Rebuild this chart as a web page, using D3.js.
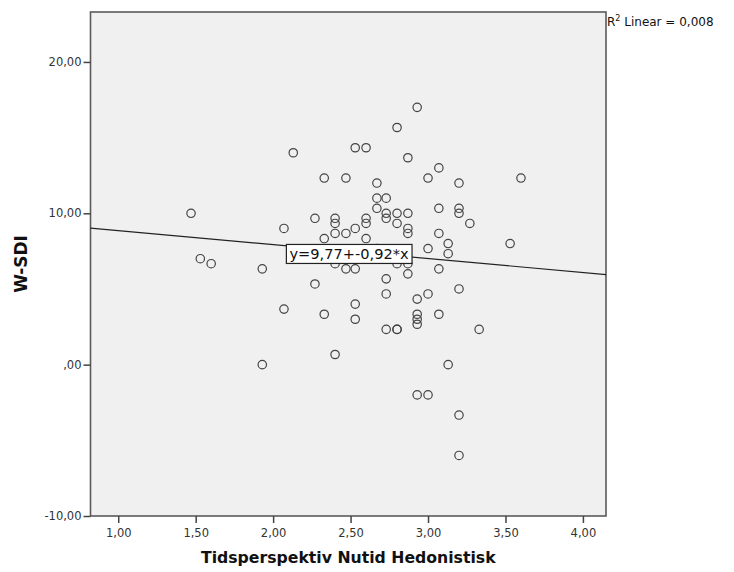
<!DOCTYPE html>
<html><head><meta charset="utf-8">
<script src="https://cdn.jsdelivr.net/npm/d3@7"></script>
<style>body{margin:0;background:#fff}svg{display:block}</style>
</head><body>
<script>
const xValues = [1.47,1.53,1.60,1.93,1.93,2.07,2.07,2.13,2.27,2.27,2.33,2.33,2.33,2.40,2.40,2.40,2.40,2.40,2.47,2.47,2.47,2.53,2.53,2.53,2.53,2.53,2.60,2.60,2.60,2.60,2.67,2.67,2.67,2.73,2.73,2.73,2.73,2.73,2.73,2.80,2.80,2.80,2.80,2.80,2.80,2.87,2.87,2.87,2.87,2.87,2.87,2.93,2.93,2.93,2.93,2.93,2.93,3.00,3.00,3.00,3.00,3.07,3.07,3.07,3.07,3.07,3.13,3.13,3.13,3.20,3.20,3.20,3.20,3.20,3.20,3.27,3.33,3.53,3.60,2.67,2.60];
const yValues = [10.00,7.00,6.67,6.33,0.00,9.00,3.67,14.00,9.67,5.33,12.33,8.33,3.33,9.67,9.33,8.67,6.67,0.67,12.33,8.67,6.33,14.33,9.00,6.33,4.00,3.00,14.33,9.67,9.33,8.33,12.00,11.00,10.33,11.00,10.00,9.67,5.67,4.67,2.33,15.67,10.00,9.33,6.67,2.33,2.33,13.67,10.00,9.00,8.67,6.67,6.00,17.00,4.33,3.33,3.00,2.67,-2.00,12.33,7.67,4.67,-2.00,13.00,10.33,8.67,6.33,3.33,8.00,7.33,0.00,12.00,10.33,10.00,5.00,-3.33,-6.00,9.33,2.33,8.00,12.33,7.67,7.33];
const xTicks = [1.0,1.5,2.0,2.5,3.0,3.5,4.0];
const yTicks = [-10,0,10,20];
const fitIntercept = 9.77, fitSlope = -0.92;
const fitLabel = "y=9,77+-0,92*x";
const r2Label = "0,008";
const xTitle = "Tidsperspektiv Nutid Hedonistisk";
const yTitle = "W-SDI";

const W = 734, H = 572;
const L = 90.5, R = 606, T = 12, B = 516;
const svg = d3.select("body").append("svg").attr("width", W).attr("height", H);
const x = d3.scaleLinear().domain([0.821, 4.149]).range([L, R]);
const y = d3.scaleLinear().domain([-10, 23.3]).range([B, T]);
const fmt = v => { const s = d3.format(".2f")(v).replace(".", ",").replace("\u2212", "-"); return s === "0,00" ? ",00" : s; };

svg.append("rect").attr("x", L).attr("y", T).attr("width", R - L).attr("height", B - T)
  .attr("fill", "#f0f0f0").attr("stroke", "#5a5a5a").attr("stroke-width", 1.6);

const font = "'DejaVu Sans', Verdana, sans-serif";
const ya = svg.append("g").attr("transform", `translate(${L},0)`)
  .call(d3.axisLeft(y).tickValues(yTicks).tickFormat(fmt).tickSize(7).tickSizeOuter(0));
const xa = svg.append("g").attr("transform", `translate(0,${B})`)
  .call(d3.axisBottom(x).tickValues(xTicks).tickFormat(fmt).tickSize(7).tickSizeOuter(0));
[ya, xa].forEach(a => {
  a.select(".domain").remove();
  a.selectAll("line").attr("stroke", "#444").attr("stroke-width", 1.5);
  a.selectAll("text").attr("fill", "#333").style("font-family", font).style("font-size", "11.5px");
});
ya.selectAll("text").attr("x", -9);
xa.selectAll("text").attr("y", 13);

// points
svg.append("g").selectAll("circle").data(xValues.map((v, i) => [v, yValues[i]])).join("circle")
  .attr("cx", d => x(d[0])).attr("cy", d => y(d[1])).attr("r", 4.2)
  .attr("fill", "none").attr("stroke", "#444").attr("stroke-width", 1.2);

// fit line
const xd = x.domain();
svg.append("line").attr("x1", x(xd[0])).attr("y1", y(fitIntercept + fitSlope * xd[0]))
  .attr("x2", x(xd[1])).attr("y2", y(fitIntercept + fitSlope * xd[1]))
  .attr("stroke", "#222").attr("stroke-width", 1.2);

// fit label
const lx = 2.49, ly = fitIntercept + fitSlope * lx;
const lg = svg.append("g").attr("transform", `translate(${x(lx)},${y(ly) + 2.5})`);
const lt = lg.append("text").attr("text-anchor", "middle").attr("dy", "0.36em")
  .style("font-family", font).style("font-size", "14.6px").attr("fill", "#111").text(fitLabel);
const bb = lt.node().getBBox();
lg.insert("rect", "text").attr("x", bb.x - 3).attr("y", -9.5).attr("width", bb.width + 6).attr("height", 19)
  .attr("fill", "#fff").attr("stroke", "#222").attr("stroke-width", 1.2);

// R2 label
const rt = svg.append("text").attr("x", R + 1).attr("y", 26).style("font-family", font).style("font-size", "12px").attr("fill", "#111");
rt.append("tspan").text("R");
rt.append("tspan").attr("dy", -5).style("font-size", "8px").text("2");
rt.append("tspan").attr("dy", 5).text(" Linear = " + r2Label);

// titles
svg.append("text").attr("x", (L + R) / 2).attr("y", 563).attr("text-anchor", "middle")
  .style("font-family", font).style("font-size", "15.7px").style("font-weight", "bold").attr("fill", "#111").text(xTitle);
svg.append("text").attr("transform", `translate(27,${(T + B) / 2}) rotate(-90)`).attr("text-anchor", "middle")
  .style("font-family", font).style("font-size", "17px").style("font-weight", "bold").attr("fill", "#111").text(yTitle);
</script>
</body></html>
